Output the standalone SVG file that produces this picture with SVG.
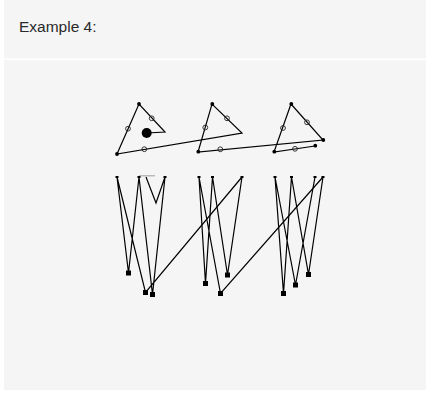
<svg xmlns="http://www.w3.org/2000/svg" width="430" height="394" viewBox="0 0 430 394">
<style>
.ln{fill:none;stroke:#000;stroke-width:1.2;stroke-linejoin:miter}
.dot{fill:#000}
.oc{fill:none;stroke:#222;stroke-width:0.9}
.sq{fill:#000}
.tk{fill:#000}
.title{font-family:"Liberation Sans",Arial,sans-serif;font-size:15.5px;fill:#2a2a2a}
</style>
<rect x="0" y="0" width="430" height="394" fill="#fff"/>
<rect x="4" y="0" width="422" height="58.5" fill="#f5f5f5"/>
<rect x="4" y="60" width="422" height="330" fill="#f5f5f5"/>
<text class="title" x="19" y="32">Example 4:</text>
<g id="connectors">
<path class="ln" d="M147,133 L165,132 L139,104 L117,154 L242,133 L212,104 L198,152 L323,140 L291,104 L274,152 L315,146"/>
<path class="ln" d="M117,177 L128.5,273 L139,177 L152.5,294.5 L165,177 M117,177 L145.5,292.5 L242,177 M146,177 L156,203 L165,177"/>
<path class="ln" d="M199,177 L205.5,283.5 L212.5,177 L227.5,275 L242,177 M199,177 L220.5,293.5 L323,177"/>
<path class="ln" d="M275,177 L283.5,293.5 L291.5,177 L308.5,274.5 L323,177 M275,177 L295.5,285 L315,177"/>
<line x1="139" y1="175.8" x2="155" y2="175.8" stroke="#aaa" stroke-width="1.2"/>
</g>
<g id="shape1">
<circle class="dot" cx="146.7" cy="133" r="5"/>
<circle class="dot" cx="139" cy="104" r="1.9"/>
<circle class="dot" cx="117" cy="154" r="1.9"/>
<circle class="oc" cx="128" cy="128.7" r="2.4"/>
<circle class="oc" cx="151.7" cy="118.3" r="2.4"/>
<circle class="oc" cx="144.3" cy="149.2" r="2.4"/>
</g>
<g id="shape2">
<circle class="dot" cx="212.3" cy="104" r="1.9"/>
<circle class="dot" cx="198.3" cy="151.7" r="1.9"/>
<circle class="oc" cx="205.3" cy="127.5" r="2.4"/>
<circle class="oc" cx="227" cy="118.3" r="2.4"/>
<circle class="oc" cx="220.3" cy="149.3" r="2.4"/>
</g>
<g id="shape3">
<circle class="dot" cx="291.3" cy="104" r="1.9"/>
<circle class="dot" cx="323.3" cy="140" r="1.9"/>
<circle class="dot" cx="274.3" cy="151.7" r="1.9"/>
<circle class="dot" cx="315.3" cy="145.7" r="1.9"/>
<circle class="oc" cx="283" cy="128" r="2.4"/>
<circle class="oc" cx="307" cy="122.3" r="2.4"/>
<circle class="oc" cx="295" cy="148.8" r="2.4"/>
</g>
<g id="ticks">
<rect class="tk" x="115.5" y="176" width="3" height="2"/>
<rect class="tk" x="137.5" y="176" width="3" height="2"/>
<rect class="tk" x="163.5" y="176" width="3" height="2"/>
<rect class="tk" x="197.5" y="176" width="3" height="2"/>
<rect class="tk" x="211" y="176" width="3" height="2"/>
<rect class="tk" x="240.5" y="176" width="3" height="2"/>
<rect class="tk" x="273.5" y="176" width="3" height="2"/>
<rect class="tk" x="290" y="176" width="3" height="2"/>
<rect class="tk" x="313.5" y="176" width="3" height="2"/>
<rect class="tk" x="321.5" y="176" width="3" height="2"/>
</g>
<g id="squares">
<rect class="sq" x="126" y="270.5" width="5" height="5"/>
<rect class="sq" x="150" y="292" width="5" height="5"/>
<rect class="sq" x="143" y="290" width="5" height="5"/>
<rect class="sq" x="203" y="281" width="5" height="5"/>
<rect class="sq" x="225" y="272.5" width="5" height="5"/>
<rect class="sq" x="218" y="291" width="5" height="5"/>
<rect class="sq" x="281" y="291" width="5" height="5"/>
<rect class="sq" x="306" y="272" width="5" height="5"/>
<rect class="sq" x="293" y="282.5" width="5" height="5"/>
</g>
</svg>
